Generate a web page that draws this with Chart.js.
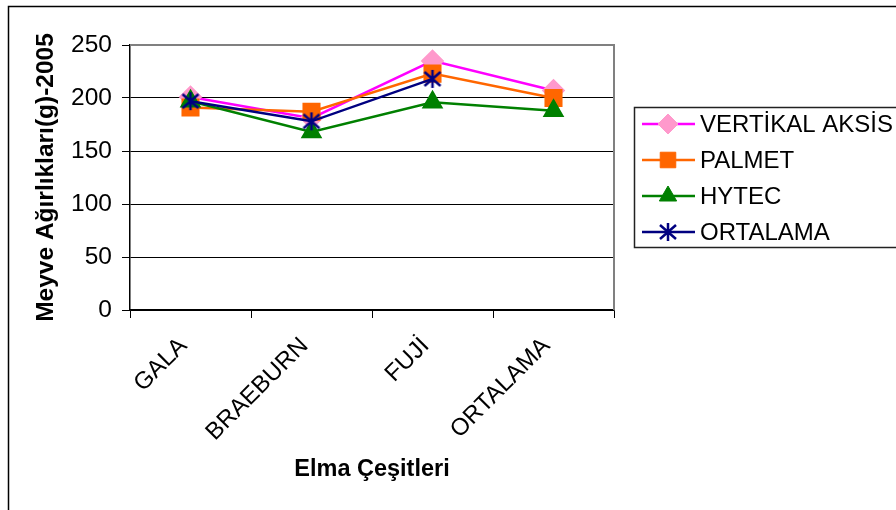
<!DOCTYPE html>
<html>
<head>
<meta charset="utf-8">
<script src="https://cdn.jsdelivr.net/npm/chart.js@4/dist/chart.umd.min.js"></script>
<style>
  html, body { margin: 0; padding: 0; background: #fff; }
  #wrap { width: 896px; height: 510px; }
</style>
</head>
<body>
<div id="wrap"><canvas id="appleChart" width="896" height="510"></canvas></div>
<script>
//chart data
const categories = ['GALA', 'BRAEBURN', 'FUJİ', 'ORTALAMA'];
const seriesNames = ['VERTİKAL AKSİS', 'PALMET', 'HYTEC', 'ORTALAMA'];
const vertikal = [201, 181, 235, 207];
const palmet = [191, 187, 223, 200];
const hytec = [197, 168, 196, 188];
const ortalama = [197, 178, 218, null];
const yTicks = [0, 50, 100, 150, 200, 250];

const fontName = '"Liberation Sans", Arial, sans-serif';

//star marker (6 spokes like excel)
const star = document.createElement('canvas');
star.width = 22;
star.height = 22;
const sctx = star.getContext('2d');
sctx.strokeStyle = '#000080';
sctx.lineWidth = 2.5;
sctx.beginPath();
sctx.moveTo(11, 2); sctx.lineTo(11, 20);
sctx.moveTo(3, 4); sctx.lineTo(19, 18);
sctx.moveTo(19, 4); sctx.lineTo(3, 18);
sctx.stroke();

//outer frame and plot border
const framePlugin = {
    id: 'frame',
    beforeDraw(chart) {
        const ctx = chart.ctx;
        ctx.save();
        ctx.fillStyle = '#fff';
        ctx.fillRect(0, 0, chart.width, chart.height);
        ctx.strokeStyle = '#000';
        ctx.lineWidth = 1.5;
        ctx.strokeRect(8.5, 6.5, 900, 520);
        ctx.restore();
    },
    beforeDatasetsDraw(chart) {
        const a = chart.chartArea;
        const ctx = chart.ctx;
        ctx.save();
        ctx.strokeStyle = '#808080';
        ctx.lineWidth = 2;
        ctx.beginPath();
        ctx.moveTo(a.left, a.top);
        ctx.lineTo(a.right, a.top);
        ctx.lineTo(a.right, a.bottom);
        ctx.stroke();
        ctx.restore();
    }
};

//legend box with line + marker
const legendPlugin = {
    id: 'lineLegend',
    afterDraw(chart) {
        const ctx = chart.ctx;
        ctx.save();
        ctx.strokeStyle = '#222';
        ctx.lineWidth = 1.5;
        ctx.strokeRect(634.5, 107.5, 300, 140);
        chart.data.datasets.forEach((ds, i) => {
            const y = 124 + i * 36;
            ctx.strokeStyle = ds.borderColor;
            ctx.lineWidth = 2.5;
            ctx.beginPath();
            ctx.moveTo(642, y);
            ctx.lineTo(695, y);
            ctx.stroke();
            ctx.fillStyle = ds.pointBackgroundColor;
            ctx.strokeStyle = ds.pointBorderColor;
            ctx.lineWidth = 1;
            Chart.helpers.drawPoint(ctx, {
                pointStyle: ds.pointStyle,
                radius: ds.pointRadius,
                rotation: 0,
                borderWidth: 1
            }, 668, y);
            ctx.fillStyle = '#000';
            ctx.font = '24px ' + fontName;
            ctx.textBaseline = 'middle';
            ctx.textAlign = 'left';
            ctx.fillText(ds.label, 700, y + 1);
        });
        ctx.restore();
    }
};

const appleCtx = document.getElementById('appleChart').getContext('2d');
const appleChart = new Chart(appleCtx, {
    type: 'line',
    data: {
        labels: categories,
        datasets: [{
            label: seriesNames[0],
            data: vertikal,
            borderColor: '#FF00FF',
            pointBackgroundColor: '#FF99CC',
            pointBorderColor: '#FF99CC',
            pointStyle: 'rectRot',
            pointRadius: 10,
            borderWidth: 2.5,
            order: 3
        }, {
            label: seriesNames[1],
            data: palmet,
            borderColor: '#FF6600',
            pointBackgroundColor: '#FF6600',
            pointBorderColor: '#FF6600',
            pointStyle: 'rect',
            pointRadius: 11,
            borderWidth: 2.5,
            order: 2
        }, {
            label: seriesNames[2],
            data: hytec,
            borderColor: '#008000',
            pointBackgroundColor: '#008000',
            pointBorderColor: '#008000',
            pointStyle: 'triangle',
            pointRadius: 10,
            borderWidth: 2.5,
            order: 1
        }, {
            label: seriesNames[3],
            data: ortalama,
            borderColor: '#000080',
            pointBackgroundColor: '#000080',
            pointBorderColor: '#000080',
            pointStyle: star,
            pointRadius: 10,
            borderWidth: 2.5,
            order: 0
        }]
    },
    options: {
        responsive: false,
        animation: false,
        layout: {
            padding: { left: 10, top: 45, right: 282, bottom: 0 }
        },
        plugins: {
            legend: { display: false },
            tooltip: { enabled: false }
        },
        scales: {
            x: {
                offset: true,
                afterFit(scale) { scale.height = 200; },
                grid: {
                    offset: true,
                    drawOnChartArea: false,
                    tickLength: 8,
                    tickColor: '#000',
                    color: '#000'
                },
                border: { color: '#000', width: 1.5 },
                ticks: {
                    minRotation: 45,
                    maxRotation: 45,
                    padding: 14,
                    labelOffset: -7,
                    color: '#000',
                    font: { family: fontName, size: 24 }
                },
                title: {
                    display: true,
                    text: 'Elma Çeşitleri',
                    color: '#000',
                    padding: { top: 0, bottom: 26 },
                    font: { family: fontName, size: 23.5, weight: 'bold' }
                }
            },
            y: {
                min: 0,
                max: 250,
                afterFit(scale) { scale.width = 120; },
                afterBuildTicks(scale) {
                    scale.ticks = yTicks.map(v => ({ value: v }));
                },
                grid: {
                    color: ctx => ctx.tick && ctx.tick.value === 250 ? 'rgba(0,0,0,0)' : '#000',
                    tickColor: '#000',
                    tickLength: 8,
                    lineWidth: 1
                },
                border: { color: '#000', width: 1.5 },
                ticks: {
                    padding: 10,
                    color: '#000',
                    font: { family: fontName, size: 24.5 }
                },
                title: {
                    display: true,
                    text: 'Meyve Ağırlıkları(g)-2005',
                    color: '#000',
                    padding: { top: 22, bottom: 0 },
                    font: { family: fontName, size: 24.5, weight: 'bold' }
                }
            }
        }
    },
    plugins: [framePlugin, legendPlugin]
});
</script>
</body>
</html>
